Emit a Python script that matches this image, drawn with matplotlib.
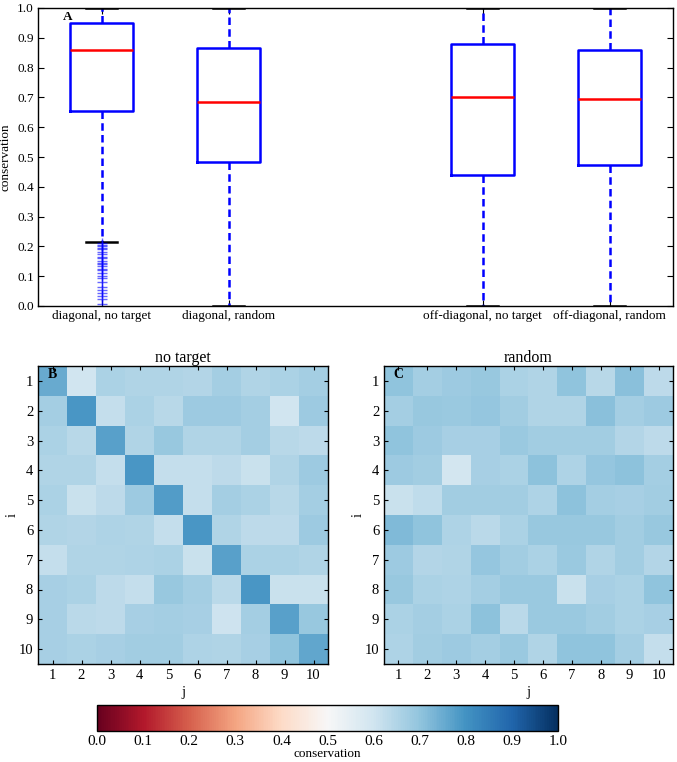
import numpy as np
import matplotlib
matplotlib.use('Agg')
from matplotlib import pyplot as plt

# box statistics
box_labels = ['diagonal, no target', 'diagonal, random',
              'off-diagonal, no target', 'off-diagonal, random']
box_pos = [1, 2, 4, 5]
q1 = [0.655, 0.482, 0.440, 0.474]
med = [0.860, 0.683, 0.700, 0.695]
q3 = [0.950, 0.865, 0.878, 0.858]
whislo = [0.215, 0.0, 0.0, 0.0]
whishi = [1.0, 1.0, 1.0, 1.0]
fliers_diag_nt = [0.008, 0.025, 0.035, 0.045, 0.055, 0.065, 0.08, 0.095, 0.10,
                  0.11, 0.12, 0.125, 0.135, 0.14, 0.145, 0.15, 0.16, 0.165,
                  0.175, 0.18, 0.19, 0.195, 0.20, 0.205, 0.21]

# conservation matrices (rows i, cols j)
no_target = [
    [0.75, 0.60, 0.66, 0.65, 0.65, 0.645, 0.67, 0.65, 0.66, 0.67],
    [0.67, 0.79, 0.62, 0.66, 0.64, 0.68, 0.68, 0.67, 0.60, 0.68],
    [0.66, 0.64, 0.77, 0.65, 0.69, 0.65, 0.65, 0.67, 0.64, 0.63],
    [0.65, 0.65, 0.62, 0.79, 0.62, 0.62, 0.63, 0.61, 0.65, 0.68],
    [0.66, 0.61, 0.63, 0.68, 0.78, 0.62, 0.67, 0.66, 0.64, 0.67],
    [0.65, 0.645, 0.655, 0.65, 0.62, 0.79, 0.65, 0.63, 0.63, 0.68],
    [0.62, 0.65, 0.65, 0.655, 0.66, 0.61, 0.77, 0.66, 0.66, 0.65],
    [0.665, 0.66, 0.63, 0.62, 0.69, 0.67, 0.635, 0.79, 0.61, 0.61],
    [0.665, 0.635, 0.63, 0.665, 0.67, 0.665, 0.605, 0.67, 0.77, 0.69],
    [0.665, 0.66, 0.665, 0.675, 0.675, 0.655, 0.65, 0.665, 0.70, 0.76],
]
random_mat = [
    [0.70, 0.67, 0.68, 0.69, 0.66, 0.65, 0.70, 0.64, 0.71, 0.63],
    [0.67, 0.69, 0.685, 0.695, 0.675, 0.65, 0.65, 0.71, 0.67, 0.68],
    [0.70, 0.68, 0.665, 0.665, 0.685, 0.675, 0.675, 0.675, 0.645, 0.63],
    [0.68, 0.675, 0.59, 0.665, 0.66, 0.705, 0.655, 0.695, 0.705, 0.67],
    [0.61, 0.625, 0.675, 0.675, 0.675, 0.655, 0.705, 0.67, 0.665, 0.675],
    [0.72, 0.70, 0.655, 0.635, 0.66, 0.69, 0.69, 0.69, 0.675, 0.69],
    [0.68, 0.645, 0.65, 0.695, 0.675, 0.66, 0.685, 0.65, 0.675, 0.645],
    [0.69, 0.66, 0.655, 0.67, 0.685, 0.685, 0.61, 0.665, 0.66, 0.70],
    [0.66, 0.67, 0.66, 0.705, 0.635, 0.685, 0.685, 0.675, 0.66, 0.665],
    [0.655, 0.675, 0.68, 0.67, 0.685, 0.65, 0.70, 0.70, 0.67, 0.62],
]
idx_labels = [str(k) for k in range(1, 11)]

plt.rcParams['font.family'] = ['Liberation Serif', 'DejaVu Serif']
plt.rcParams['xtick.direction'] = 'in'
plt.rcParams['ytick.direction'] = 'in'
plt.rcParams['xtick.top'] = True
plt.rcParams['ytick.right'] = True
plt.rcParams['axes.linewidth'] = 1.0

W, H = 677, 762
fig = plt.figure(figsize=(W / 100, H / 100), dpi=100)


def px_axes(x0, y0, x1, y1):
    # axes from pixel box (top-left origin)
    return fig.add_axes([x0 / W, 1 - y1 / H, (x1 - x0) / W, (y1 - y0) / H])


# --- panel A: boxplots
ax = px_axes(38, 8, 673, 306)
stats = []
for k in range(4):
    stats.append(dict(med=med[k], q1=q1[k], q3=q3[k], whislo=whislo[k],
                      whishi=whishi[k],
                      fliers=fliers_diag_nt if k == 0 else []))
ax.bxp(stats, positions=box_pos, widths=0.5,
       boxprops=dict(color='blue', lw=1.8),
       medianprops=dict(color='red', lw=1.8),
       whiskerprops=dict(color='blue', lw=1.8, ls=(0, (3, 1.7))),
       capprops=dict(color='black', lw=1.8),
       flierprops=dict(marker='+', markeredgecolor='blue', markersize=7,
                       alpha=0.6, ls='none'))
ax.set_xlim(0.5, 5.5)
ax.set_ylim(0, 1)
ax.set_xticks(box_pos)
ax.set_xticklabels(box_labels, fontsize=9.5)
ax.set_yticks(np.arange(0, 1.01, 0.1))
ax.set_yticklabels(['%.1f' % v for v in np.arange(0, 1.01, 0.1)], fontsize=9.5)
ax.tick_params(length=4, pad=3)
ax.set_ylabel('conservation', fontsize=9.5)
ax.yaxis.set_label_coords(-0.041, 0.5)
ax.text(0.047, 0.97, 'A', transform=ax.transAxes, fontsize=9.5,
        fontweight='bold', ha='center', va='center')

# --- panels B and C: heatmaps
panels = [(38, 328, no_target, 'no target', 'B'),
          (384, 673, random_mat, 'random', 'C')]
im = None
for x0, x1, mat, title, tag in panels:
    hx = px_axes(x0, 366, x1, 664)
    im = hx.imshow(np.array(mat), cmap='RdBu', vmin=0, vmax=1,
                   interpolation='nearest', aspect='auto')
    hx.set_xticks(range(10))
    hx.set_yticks(range(10))
    hx.set_xticklabels(idx_labels, fontsize=10.5)
    hx.set_yticklabels(idx_labels, fontsize=10.5)
    hx.tick_params(length=3)
    hx.set_xlabel('j', fontsize=10.5, labelpad=3)
    hx.set_ylabel('i', fontsize=10.5)
    hx.yaxis.set_label_coords(-0.065, 0.5)
    hx.set_title(title, fontsize=11.5, pad=3)
    hx.text(0.05, 0.97, tag, transform=hx.transAxes, fontsize=10,
            fontweight='bold', ha='center', va='center')

# --- colorbar
cax = px_axes(97, 705, 558, 731)
cb = fig.colorbar(im, cax=cax, orientation='horizontal',
                  ticks=np.arange(0, 1.01, 0.1))
cb.ax.set_xticklabels(['%.1f' % v for v in np.arange(0, 1.01, 0.1)],
                      fontsize=11)
cb.ax.tick_params(length=0, top=False, pad=3)
cb.set_label('conservation', fontsize=9.5, labelpad=0)
cb.outline.set_linewidth(1.0)

fig.savefig('out.png', dpi=100)
